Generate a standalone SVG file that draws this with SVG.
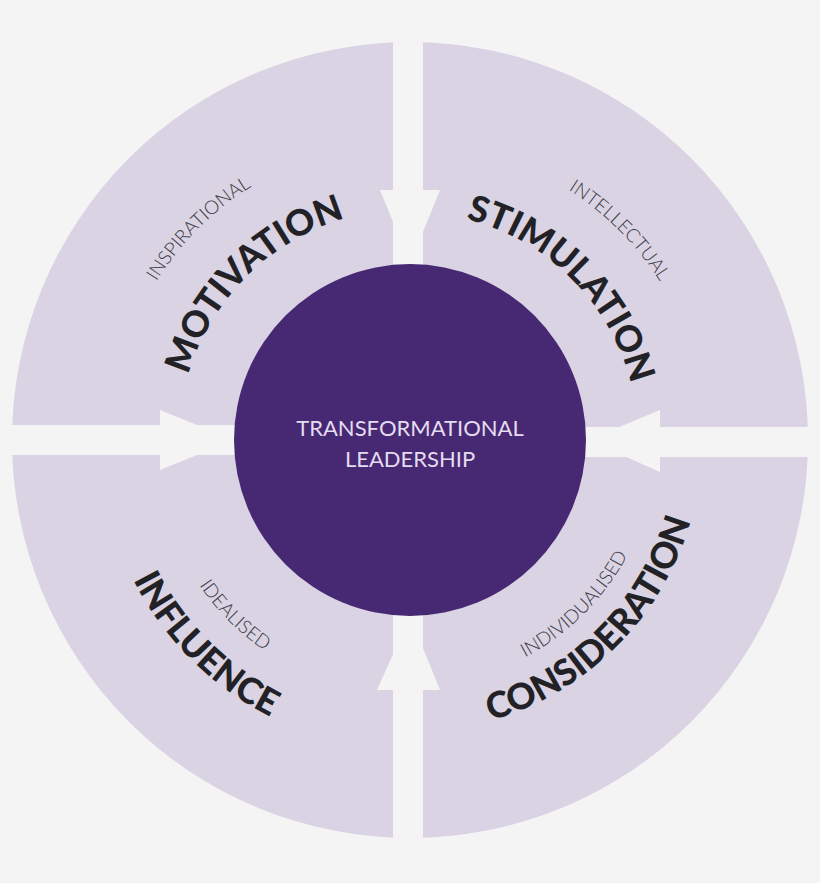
<svg xmlns="http://www.w3.org/2000/svg" width="820" height="883" viewBox="0 0 820 883">
<style>
.big{font-family:Lato,"Liberation Sans",sans-serif;font-weight:900;font-size:36px;fill:#222226}
.small{font-family:Lato,"Liberation Sans",sans-serif;font-weight:300;font-size:19px;fill:#3a3a40}
.ctr{font-family:Lato,"Liberation Sans",sans-serif;font-weight:400;font-size:22px;fill:#e4dcf0}
.gap{fill:#f4f4f4}
</style>
<defs>
<path id="pMot" d="M179,440 A231,231 0 0 1 410,209"/>
<path id="pIns" d="M111,440 A299,299 0 0 1 410,141"/>
<path id="pSti" d="M410,212 A228,228 0 0 1 638,440"/>
<path id="pInt" d="M410,144 A296,296 0 0 1 706,440"/>
<path id="pInf" d="M100,440 A310,310 0 0 0 410,750"/>
<path id="pIde" d="M154,440 A256,256 0 0 0 410,696"/>
<path id="pCon" d="M410,732 A292,292 0 0 0 702,440"/>
<path id="pInd" d="M410,686 A246,246 0 0 0 656,440"/>
</defs>
<rect width="820" height="883" fill="#f4f4f4"/>
<g id="ring">
<circle cx="410" cy="440" r="398" fill="#d9d3e4"/>
</g>
<g id="connectors">
<rect class="gap" x="393" y="30" width="30" height="830"/>
<rect class="gap" x="0" y="425" width="410" height="30"/>
<rect class="gap" x="410" y="427" width="410" height="30"/>
<polygon class="gap" points="380,190 440,190 410,264"/>
<polygon class="gap" points="160,410 160,470 234,440"/>
<polygon class="gap" points="660,410 660,472 588,440"/>
<polygon class="gap" points="377,690 440,690 410,616"/>
</g>
<g id="center">
<circle cx="410" cy="440" r="176" fill="#472872"/>
<text class="ctr" x="410" y="436" text-anchor="middle">TRANSFORMATIONAL</text>
<text class="ctr" x="410" y="467" text-anchor="middle">LEADERSHIP</text>
</g>
<g id="motivation">
<text class="small"><textPath href="#pIns" startOffset="50%" text-anchor="middle">INSPIRATIONAL</textPath></text>
<text class="big"><textPath href="#pMot" startOffset="50%" text-anchor="middle">MOTIVATION</textPath></text>
</g>
<g id="stimulation">
<text class="small"><textPath href="#pInt" startOffset="50%" text-anchor="middle">INTELLECTUAL</textPath></text>
<text class="big"><textPath href="#pSti" startOffset="50%" text-anchor="middle">STIMULATION</textPath></text>
</g>
<g id="influence">
<text class="small"><textPath href="#pIde" startOffset="50%" text-anchor="middle">IDEALISED</textPath></text>
<text class="big"><textPath href="#pInf" startOffset="50%" text-anchor="middle">INFLUENCE</textPath></text>
</g>
<g id="consideration">
<text class="small"><textPath href="#pInd" startOffset="50%" text-anchor="middle">INDIVIDUALISED</textPath></text>
<text class="big"><textPath href="#pCon" startOffset="50%" text-anchor="middle">CONSIDERATION</textPath></text>
</g>
</svg>
